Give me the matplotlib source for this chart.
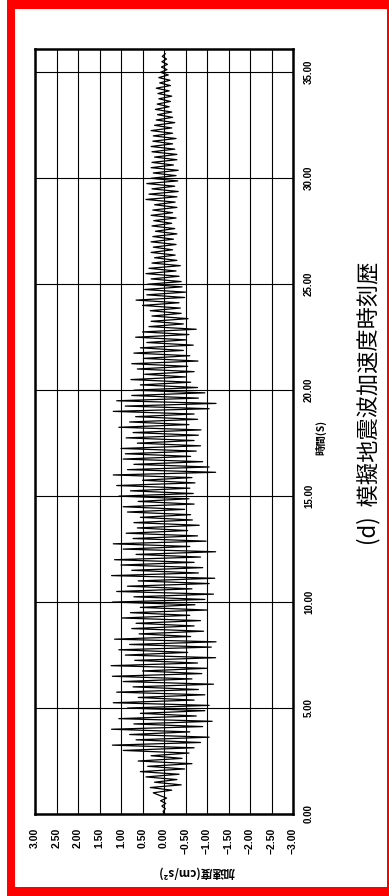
import numpy as np
import matplotlib.pyplot as plt
from matplotlib.patches import Rectangle

plt.rcParams['font.family'] = ['Liberation Sans', 'DejaVu Sans']
CJK = ['Noto Sans CJK JP', 'DejaVu Sans']

# acceleration peaks, 8 per second
dt = 0.125
acc_00_05 = [0.00, 0.02, -0.03, 0.05, -0.04, 0.08, -0.06, 0.10,
             0.25, -0.18, 0.32, -0.40, 0.22, -0.30, 0.42, -0.35,
             0.55, -0.48, 0.38, -0.65, 0.60, -0.42, 0.30, -0.58,
             0.95, -0.70, 1.20, -0.85, 0.65, -1.05, 0.80, -0.60,
             1.22, -0.90, 0.70, -1.12, 1.05, -0.75, 0.55, -0.95]
acc_05_10 = [0.85, -1.05, 1.18, -0.70, 0.60, -0.95, 1.10, -0.80,
             0.72, -1.15, 0.95, -0.65, 1.20, -0.88, 0.50, -1.00,
             1.23, -0.78, 0.68, -1.20, 0.90, -0.55, 1.05, -1.10,
             0.80, -1.21, 1.15, -0.62, 0.58, -0.92, 0.75, -0.70,
             0.65, -0.85, 0.98, -0.60, 0.78, -1.00, 0.55, -0.72]
acc_10_15 = [1.20, -0.95, 0.70, -1.15, 1.10, -0.65, 0.85, -1.05,
             0.60, -1.18, 1.22, -0.80, 0.75, -0.90, 1.00, -0.70,
             1.15, -0.85, 0.65, -1.20, 0.95, -0.60, 1.18, -0.98,
             0.72, -0.78, 0.88, -0.55, 0.62, -0.82, 0.70, -0.66,
             0.55, -0.62, 0.85, -0.48, 0.95, -0.70, 0.60, -0.58]
acc_15_20 = [1.05, -0.68, 0.78, -0.60, 1.10, -0.72, 0.50, -0.65,
             1.18, -1.20, 0.85, -1.05, 0.70, -0.90, 0.95, -0.62,
             0.90, -0.75, 1.00, -0.85, 0.62, -0.70, 0.88, -0.80,
             0.72, -0.86, 1.05, -0.58, 0.80, -0.78, 0.66, -0.70,
             1.18, -1.05, 0.90, -1.21, 1.10, -0.80, 0.75, -0.95]
acc_20_25 = [0.70, -0.78, 0.55, -0.62, 0.77, -0.50, 0.45, -0.70,
             0.62, -0.55, 0.75, -0.79, 0.48, -0.60, 0.70, -0.45,
             0.55, -0.68, 0.40, -0.52, 0.66, -0.58, 0.50, -0.75,
             0.35, -0.45, 0.30, -0.56, 0.28, -0.40, 0.32, -0.38,
             0.50, -0.35, 0.65, -0.48, 0.40, -0.50, 0.45, -0.42]
acc_25_30 = [0.38, -0.40, 0.30, -0.35, 0.42, -0.28, 0.35, -0.38,
             0.28, -0.30, 0.22, -0.26, 0.30, -0.20, 0.25, -0.28,
             0.30, -0.22, 0.26, -0.30, 0.20, -0.25, 0.28, -0.18,
             0.24, -0.28, 0.30, -0.20, 0.26, -0.30, 0.22, -0.26,
             0.42, -0.30, 0.35, -0.33, 0.28, -0.25, 0.40, -0.32]
acc_30_36 = [0.30, -0.28, 0.25, -0.33, 0.30, -0.22, 0.28, -0.30,
             0.22, -0.30, 0.28, -0.25, 0.30, -0.20, 0.26, -0.28,
             0.25, -0.20, 0.30, -0.18, 0.22, -0.25, 0.18, -0.20,
             0.15, -0.18, 0.20, -0.12, 0.16, -0.15, 0.12, -0.18,
             0.14, -0.12, 0.18, -0.15, 0.10, -0.14, 0.12, -0.10,
             0.08, -0.07, 0.06, -0.08, 0.05, -0.06, 0.04, -0.03]

accel_ticks = [3.0, 2.5, 2.0, 1.5, 1.0, 0.5, 0.0, -0.5, -1.0, -1.5, -2.0, -2.5, -3.0]
time_ticks = [0, 5, 10, 15, 20, 25, 30, 35]

acc = np.concatenate([acc_00_05, acc_05_10, acc_10_15, acc_15_20,
                      acc_20_25, acc_25_30, acc_30_36])
t = np.arange(len(acc)) * dt

W, H = 389, 896
fig = plt.figure(figsize=(W / 100, H / 100), dpi=100)

ax = fig.add_axes([35 / W, 1 - 814 / H, 258 / W, 765 / H])
ax.plot(acc, t, color='black', lw=0.9)
ax.set_xlim(3, -3)
ax.set_ylim(0, 36.1)

ax.set_xticks(accel_ticks)
ax.set_xticklabels([f'{v:.2f}'.replace('-', '\u2212') for v in accel_ticks],
                   rotation=90, fontsize=7.5, fontweight='bold')
ax.yaxis.tick_right()
ax.set_yticks(time_ticks)
ax.set_yticklabels([f'{v:.2f}' for v in time_ticks], rotation=90,
                   va='center', fontsize=7, fontweight='bold')
ax.tick_params(axis='x', length=0, pad=10)
ax.tick_params(axis='y', length=0, pad=8)
ax.grid(True, color='black', lw=0.8)
for s in ax.spines.values():
    s.set_linewidth(1.8)

fig.text(196 / W, 1 - 872 / H, '加速度(cm/s²)', rotation=180, ha='center',
         va='center', fontsize=8.5, fontweight='bold', family=CJK)
fig.text(321 / W, 1 - 437 / H, '時間(S)', rotation=90, ha='center',
         va='center', fontsize=7.5, fontweight='bold', family=CJK)
fig.text(369 / W, 1 - 403 / H, '(d)  模擬地震波加速度時刻歴', rotation=90,
         ha='center', va='center', fontsize=16, family=CJK)

# red frame
red = '#ff0000'
for x0, y0, w, h in [(7, 0, 382, 9), (7, 887, 382, 9), (7, 0, 8, 896), (387, 0, 2, 896)]:
    fig.add_artist(Rectangle((x0 / W, 1 - (y0 + h) / H), w / W, h / H,
                             transform=fig.transFigure, color=red, lw=0))

fig.savefig('out.png', dpi=100)
